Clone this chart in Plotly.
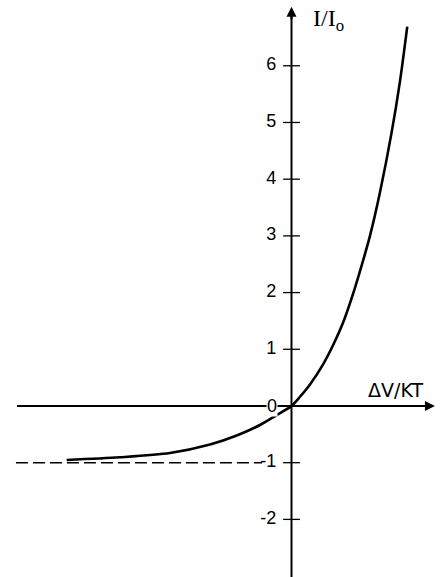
import plotly.graph_objects as go

# Curve I/I0 vs dV/kT
curve_x = [-3.965, -3.025, -2.143, -1.437, -0.966, -0.556, -0.261, 0.0, 0.15, 0.326, 0.56,
           0.737, 0.914, 1.09, 1.238, 1.384, 1.561, 1.767, 1.914, 2.042]
curve_y = [-0.952, -0.905, -0.83, -0.68, -0.52, -0.335, -0.16, 0.0, 0.163, 0.38, 0.74,
           1.08, 1.48, 1.99, 2.48, 3.0, 3.77, 4.83, 5.73, 6.69]

# y-axis ticks
tick_vals = [-2, -1, 1, 2, 3, 4, 5, 6]
tick_text = ["-2", "-1", "1", "2", "3", "4", "5", "6"]

# saturation level (dashed)
sat_x = [-4.86, -0.52]
sat_y = [-1, -1]

# axis extents (data units)
x_axis_span = [-4.84, 2.53]
y_axis_span = [-3.2, 7.04]

X_RANGE = [-5.141, 2.637]
Y_RANGE = [-3.016, 7.160]
FONT = "Liberation Sans, Arial, sans-serif"

fig = go.Figure()

fig.add_trace(go.Scatter(x=sat_x, y=sat_y, mode="lines",
                         line=dict(color="black", width=1.4, dash="12px,5px"),
                         hoverinfo="skip"))

fig.add_trace(go.Scatter(x=curve_x, y=curve_y, mode="lines",
                         line=dict(color="black", width=2.6, shape="spline", smoothing=0.8),
                         hoverinfo="skip"))

# tick crosses on the y axis
fig.add_trace(go.Scatter(x=[0] * len(tick_vals), y=tick_vals, mode="markers",
                         marker=dict(symbol="line-ew", size=12,
                                     line=dict(color="black", width=1.3)),
                         hoverinfo="skip"))

# tick labels
fig.add_trace(go.Scatter(x=[-0.27] * len(tick_vals), y=tick_vals, mode="text",
                         text=tick_text, textposition="middle left",
                         textfont=dict(family=FONT, size=18, color="black"),
                         hoverinfo="skip"))

shapes = [
    dict(type="line", xref="x", yref="y", x0=x_axis_span[0], x1=x_axis_span[1] - 0.1,
         y0=0, y1=0, line=dict(color="black", width=2), layer="below"),
    dict(type="line", xref="x", yref="y", x0=0, x1=0,
         y0=y_axis_span[0], y1=y_axis_span[1] - 0.1, line=dict(color="black", width=2),
         layer="below"),
]

annotations = [
    # arrowheads
    dict(x=x_axis_span[1], y=0, ax=-14, ay=0, xref="x", yref="y",
         text="", showarrow=True, arrowhead=2, arrowsize=1, arrowwidth=2,
         arrowcolor="black", standoff=0),
    dict(x=0, y=y_axis_span[1], ax=0, ay=14, xref="x", yref="y",
         text="", showarrow=True, arrowhead=2, arrowsize=1, arrowwidth=2,
         arrowcolor="black", standoff=0),
    # origin label sitting on the axis line
    dict(x=-0.35, y=0, xref="x", yref="y", text="0", showarrow=False,
         bgcolor="white", borderpad=0,
         font=dict(family=FONT, size=18, color="black")),
    dict(x=1.84, y=0.29, xref="x", yref="y", text="ΔV/KT", showarrow=False,
         font=dict(family="DejaVu Sans, sans-serif", size=19, color="black")),
    dict(x=0.66, y=6.80, xref="x", yref="y", text="I/I<sub>o</sub>", showarrow=False,
         font=dict(family="Liberation Serif, Times New Roman, serif", size=24, color="black")),
]

fig.update_layout(
    width=441, height=577,
    margin=dict(l=0, r=0, t=0, b=0),
    paper_bgcolor="white", plot_bgcolor="white",
    showlegend=False,
    xaxis=dict(range=X_RANGE, visible=False, fixedrange=True),
    yaxis=dict(range=Y_RANGE, visible=False, fixedrange=True),
    shapes=shapes,
    annotations=annotations,
)

fig.write_html("out.html", config={"displayModeBar": False},
               post_script="document.body.style.margin='0px';")
